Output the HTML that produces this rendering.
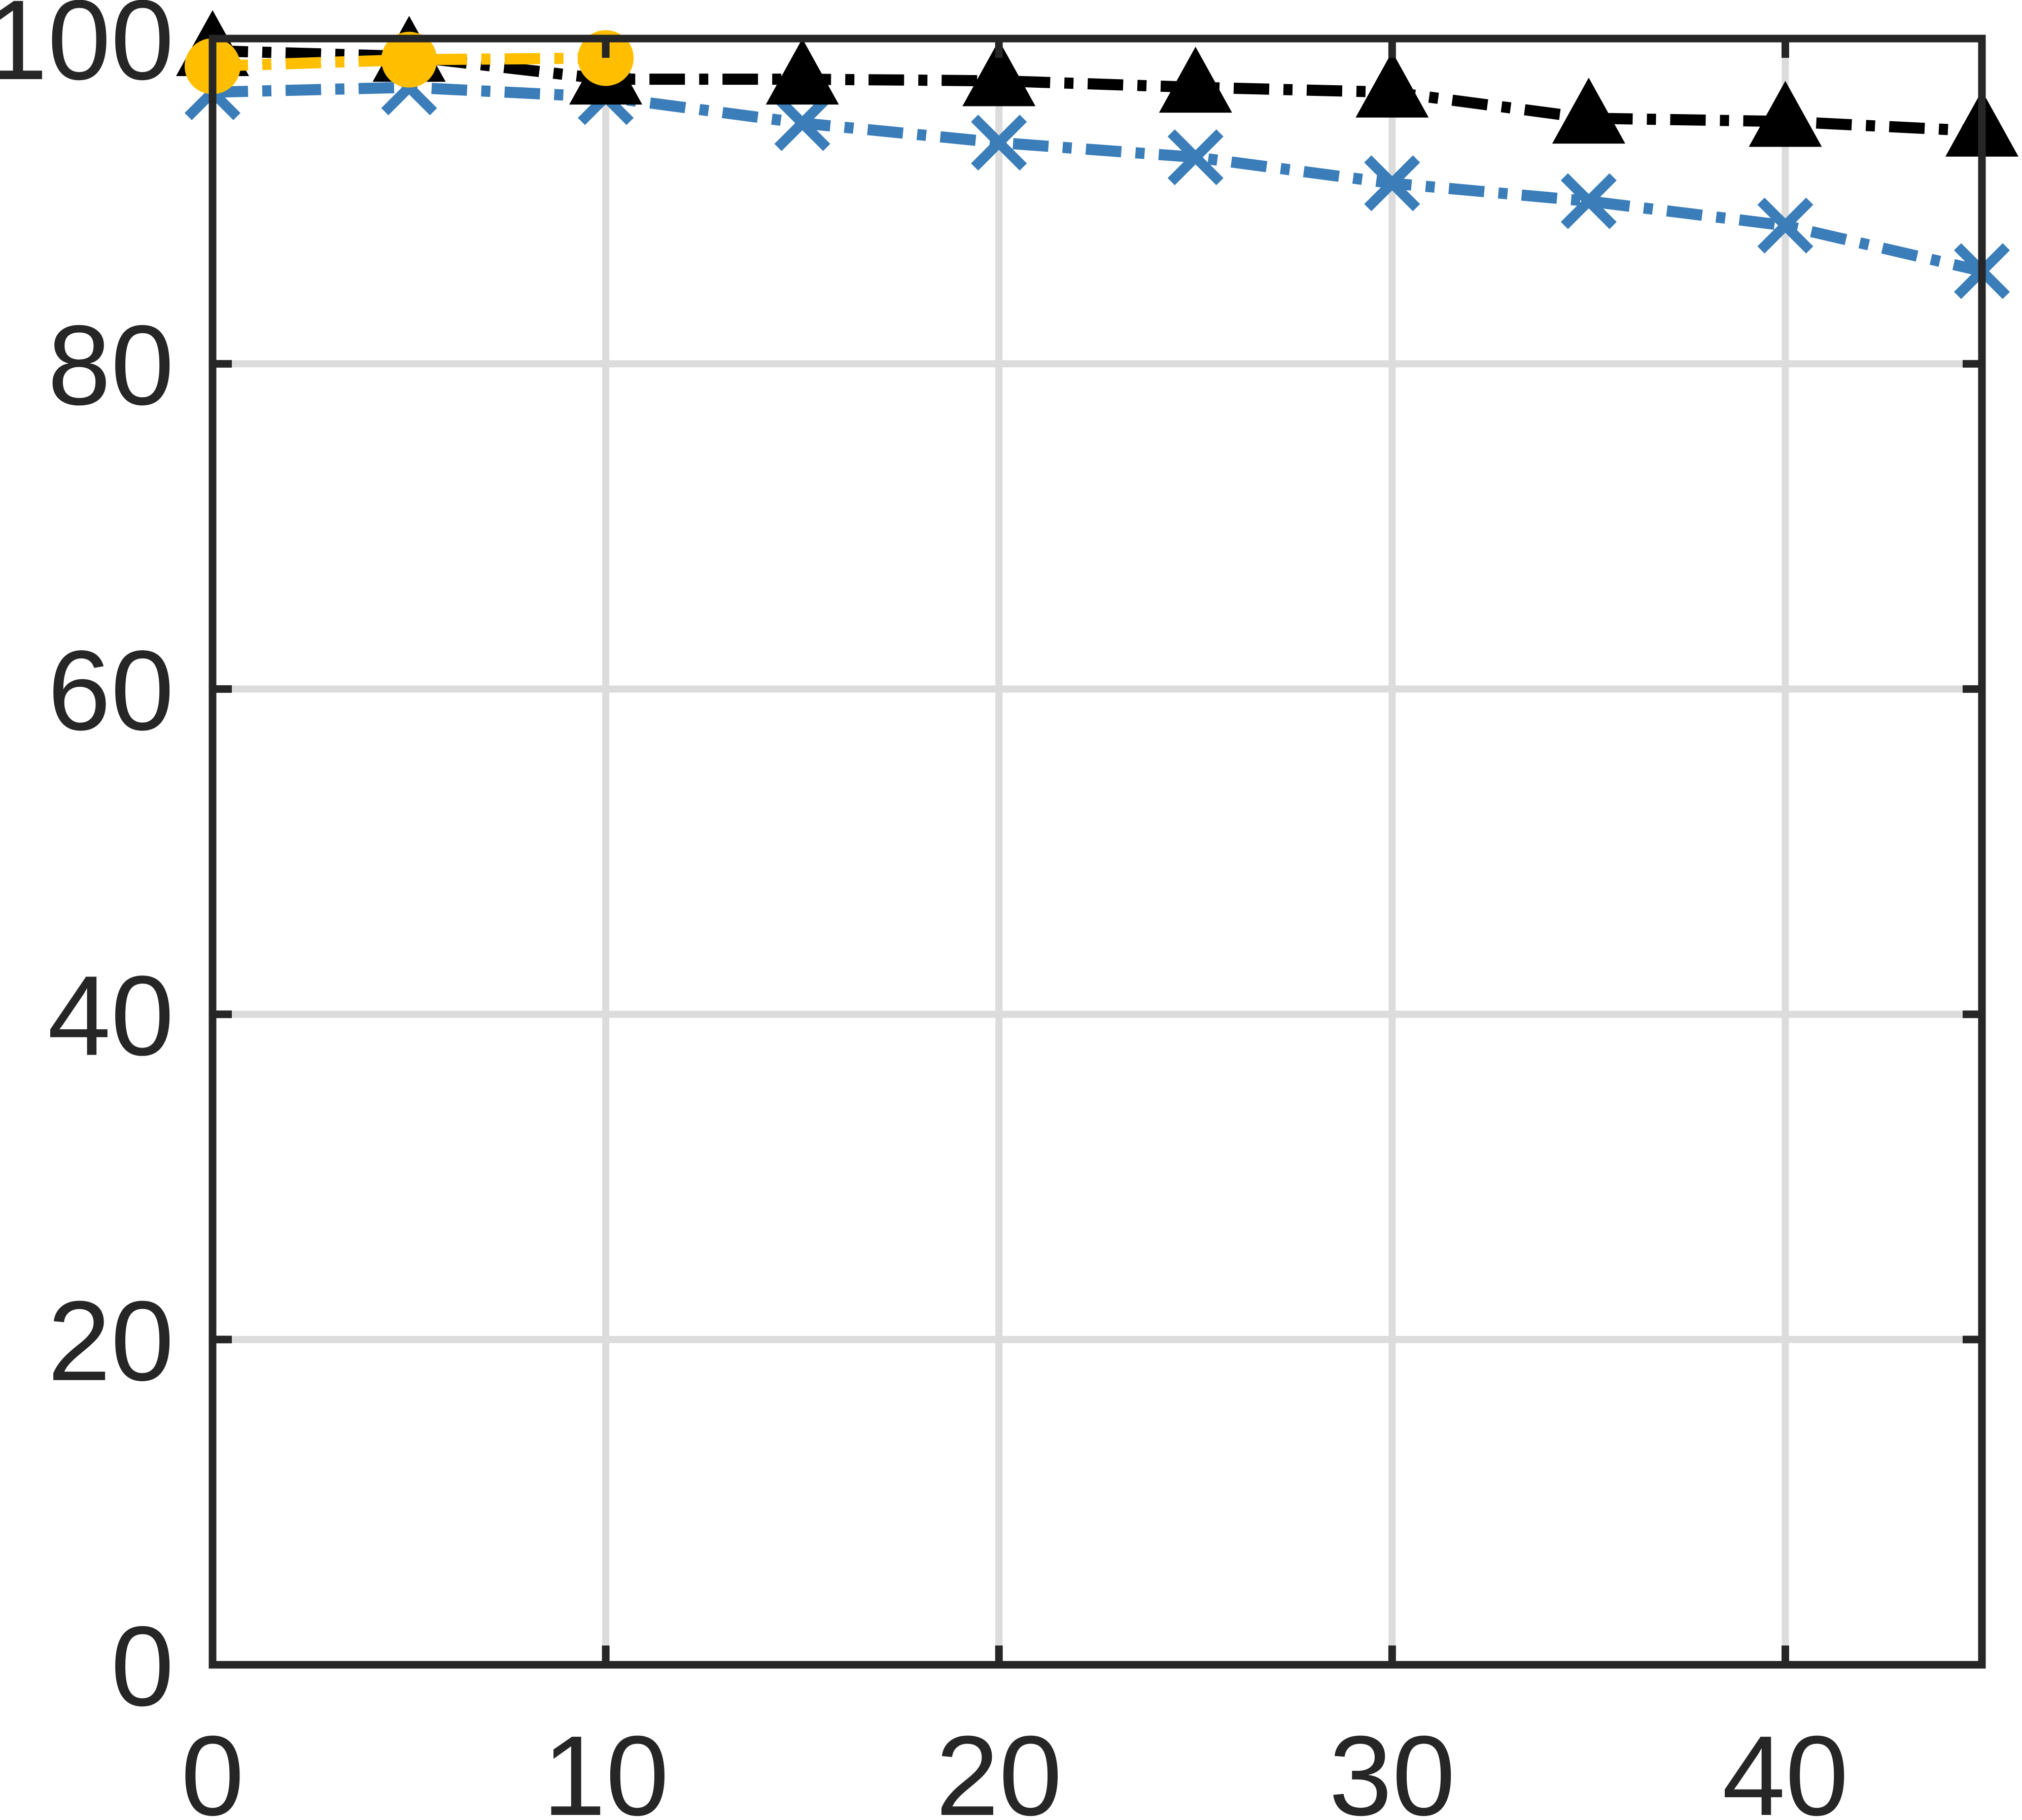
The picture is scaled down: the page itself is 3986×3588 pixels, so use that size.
<!DOCTYPE html>
<html><head><meta charset="utf-8">
<style>
html,body{margin:0;padding:0;background:#fff;}
svg{display:block;}
text{font-family:"Liberation Sans",Arial,sans-serif;fill:#262626;}
</style></head>
<body>
<svg id="chart" width="3986" height="3588" viewBox="0 0 3986 3588" xmlns="http://www.w3.org/2000/svg">
<g id="grid"></g>
<g id="series"></g>
<g id="axes"></g>
</svg>
<script>
const xCats = [0,5,10,15,20,25,30,35,40,45];
const blackVals = [99.25,98.9,97.5,97.5,97.4,97.0,96.7,95.1,94.9,94.3];
const blueVals = [96.7,97.0,96.4,94.8,93.6,92.7,91.1,90.0,88.5,85.7];
const yellowX = [0,5,10];
const yellowVals = [98.3,98.7,98.8];
const xTicks = [0,10,20,30,40];
const yTicks = [0,20,40,60,80,100];

const L=419,R=3907,T=76,B=3282;
const xMin=0,xMax=45,yMin=0,yMax=100;
const NS="http://www.w3.org/2000/svg";
function sx(v){return L+(v-xMin)/(xMax-xMin)*(R-L);}
function sy(v){return B-(v-yMin)/(yMax-yMin)*(B-T);}
function mk(tag,attrs,parent){const e=document.createElementNS(NS,tag);for(const k in attrs)e.setAttribute(k,attrs[k]);parent.appendChild(e);return e;}
const grid=document.getElementById('grid'),ser=document.getElementById('series'),ax=document.getElementById('axes');

xTicks.forEach(v=>{const l=mk('line',{x1:sx(v),x2:sx(v),y1:T,y2:B,stroke:'#dcdcdc','stroke-width':14},grid);

});
yTicks.forEach(v=>{const l=mk('line',{x1:L,x2:R,y1:sy(v),y2:sy(v),stroke:'#dcdcdc','stroke-width':14},grid);

});

function pts(xs,ys){return xs.map((x,i)=>sx(x)+','+sy(ys[i])).join(' ');}
// blue
let pl=mk('polyline',{points:pts(xCats,blueVals),fill:'none',stroke:'#3a7db8','stroke-width':22,'stroke-dasharray':'70,28,18,28'},ser);


xCats.forEach((x,i)=>{const cx=sx(x),cy=sy(blueVals[i]),d=48;
const p=mk('path',{d:`M${cx-d},${cy-d}L${cx+d},${cy+d}M${cx-d},${cy+d}L${cx+d},${cy-d}`,stroke:'#3a7db8','stroke-width':20,fill:'none'},ser);

});
// black
pl=mk('polyline',{points:pts(xCats,blackVals),fill:'none',stroke:'#000','stroke-width':22,'stroke-dasharray':'70,28,18,28'},ser);


xCats.forEach((x,i)=>{const cx=sx(x),cy=sy(blackVals[i]);
const p=mk('polygon',{points:`${cx},${cy-80} ${cx-72},${cy+50} ${cx+72},${cy+50}`,fill:'#000'},ser);

});
// yellow
pl=mk('polyline',{points:pts(yellowX,yellowVals),fill:'none',stroke:'#ffbf00','stroke-width':22,'stroke-dasharray':'70,28,18,28'},ser);


yellowX.forEach((x,i)=>{const c=mk('circle',{cx:sx(x),cy:sy(yellowVals[i]),r:55,fill:'#ffbf00'},ser);

});

// axes box
const box=mk('rect',{x:L,y:T,width:R-L,height:B-T,fill:'none',stroke:'#262626','stroke-width':15},ax);


xTicks.forEach(v=>{
 const a=mk('line',{x1:sx(v),x2:sx(v),y1:B,y2:B-38,stroke:'#262626','stroke-width':15},ax);
 
 
 const b=mk('line',{x1:sx(v),x2:sx(v),y1:T,y2:T+38,stroke:'#262626','stroke-width':15},ax);
 
 
 const t=mk('text',{x:sx(v),y:3578,'font-size':224,'text-anchor':'middle'},ax);t.textContent=v;
 
 
});
yTicks.forEach(v=>{
 const a=mk('line',{x1:L,x2:L+38,y1:sy(v),y2:sy(v),stroke:'#262626','stroke-width':15},ax);
 
 
 const b=mk('line',{x1:R,x2:R-38,y1:sy(v),y2:sy(v),stroke:'#262626','stroke-width':15},ax);
 
 
 const t=mk('text',{x:343,y:sy(v)+80,'font-size':224,'text-anchor':'end'},ax);t.textContent=v;
 
 
});
</script>
</body></html>
